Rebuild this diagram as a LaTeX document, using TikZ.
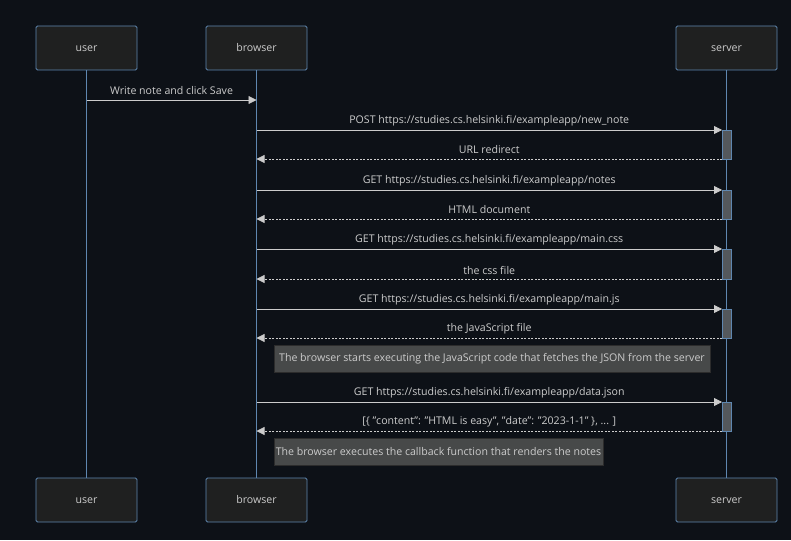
\documentclass[tikz,border=0pt]{standalone}
\usepackage{fontspec}
\setmainfont{Open Sans}
\usetikzlibrary{arrows.meta}
\definecolor{bgcol}{HTML}{0D1117}
\definecolor{actfill}{HTML}{1F2020}
\definecolor{actline}{HTML}{5F87B0}
\definecolor{msgcol}{HTML}{CCCCCC}
\definecolor{notefill}{HTML}{474949}
\definecolor{noteline}{HTML}{2C2C2C}
\definecolor{actvfill}{HTML}{54585C}

\tikzset{
  actor/.style={draw=actline,fill=actfill,rounded corners=1.5,line width=0.8,
    minimum width=101,minimum height=44,text=msgcol,inner sep=0,text height=7.5pt,text depth=0pt},
  life/.style={draw=actline,line width=1},
  msg/.style={draw=msgcol,line width=0.8,-{Triangle[length=8pt,width=8pt]}},
  reply/.style={msg,dash pattern=on 2pt off 1.5pt},
  lbl/.style={text=msgcol,inner sep=0,yshift=9pt},
  note/.style={draw=noteline,fill=notefill,text=msgcol,minimum height=27,inner sep=0,line width=0.8},
  activ/.style={draw=actline,fill=actvfill,line width=0.7}
}

\begin{document}
\begin{tikzpicture}[x=1pt,y=-1pt,font=\fontsize{10.6}{12}\selectfont]
  \fill[bgcol] (0,0) rectangle (791,540);
  \useasboundingbox (0,0) rectangle (791,540);

  % actors
  \node[actor] (user) at (86.5,48) {user};
  \node[actor] (browser) at (256.5,48) {browser};
  \node[actor] (server) at (726.5,48) {server};
  \node[actor] (userB) at (86.5,500) {user};
  \node[actor] (browserB) at (256.5,500) {browser};
  \node[actor] (serverB) at (726.5,500) {server};

  \draw[life] (user) -- (userB);
  \draw[life] (browser) -- (browserB);
  \draw[life] (server) -- (serverB);

  % rows
  \coordinate (r1) at (0,100);
  \coordinate (r2) at (0,130);
  \coordinate (r3) at (0,159);
  \coordinate (r4) at (0,190);
  \coordinate (r5) at (0,219);
  \coordinate (r6) at (0,249);
  \coordinate (r7) at (0,279);
  \coordinate (r8) at (0,309);
  \coordinate (r9) at (0,338);
  \coordinate (r10) at (0,402);
  \coordinate (r11) at (0,431);

  % server activations
  \draw[activ] ([xshift=-4.5]server |- r2) rectangle ([xshift=4.5]server |- r3);
  \draw[activ] ([xshift=-4.5]server |- r4) rectangle ([xshift=4.5]server |- r5);
  \draw[activ] ([xshift=-4.5]server |- r6) rectangle ([xshift=4.5]server |- r7);
  \draw[activ] ([xshift=-4.5]server |- r8) rectangle ([xshift=4.5]server |- r9);
  \draw[activ] ([xshift=-4.5]server |- r10) rectangle ([xshift=4.5]server |- r11);

  % messages
  \draw[msg] (user |- r1) -- (browser |- r1) node[lbl,midway] {Write note and click Save};
  \draw[msg] (browser |- r2) -- ([xshift=-4.5]server |- r2) node[lbl,midway] {POST https://studies.cs.helsinki.fi/exampleapp/new\_note};
  \draw[reply] ([xshift=-4.5]server |- r3) -- (browser |- r3) node[lbl,midway] {URL redirect};
  \draw[msg] (browser |- r4) -- ([xshift=-4.5]server |- r4) node[lbl,midway] {GET https://studies.cs.helsinki.fi/exampleapp/notes};
  \draw[reply] ([xshift=-4.5]server |- r5) -- (browser |- r5) node[lbl,midway] {HTML document};
  \draw[msg] (browser |- r6) -- ([xshift=-4.5]server |- r6) node[lbl,midway] {GET https://studies.cs.helsinki.fi/exampleapp/main.css};
  \draw[reply] ([xshift=-4.5]server |- r7) -- (browser |- r7) node[lbl,midway] {the css file};
  \draw[msg] (browser |- r8) -- ([xshift=-4.5]server |- r8) node[lbl,midway] {GET https://studies.cs.helsinki.fi/exampleapp/main.js};
  \draw[reply] ([xshift=-4.5]server |- r9) -- (browser |- r9) node[lbl,midway] {the JavaScript file};

  \node[note,minimum width=436] (note1) at (492,358.5) {The browser starts executing the JavaScript code that fetches the JSON from the server};

  \draw[msg] (browser |- r10) -- ([xshift=-4.5]server |- r10) node[lbl,midway] {GET https://studies.cs.helsinki.fi/exampleapp/data.json};
  \draw[reply] ([xshift=-4.5]server |- r11) -- (browser |- r11) node[lbl,midway] {[\{ "content": "HTML is easy", "date": "2023-1-1" \}, ... ]};

  \node[note,minimum width=329] (note2) at (438.5,451.5) {The browser executes the callback function that renders the notes};
\end{tikzpicture}
\end{document}
